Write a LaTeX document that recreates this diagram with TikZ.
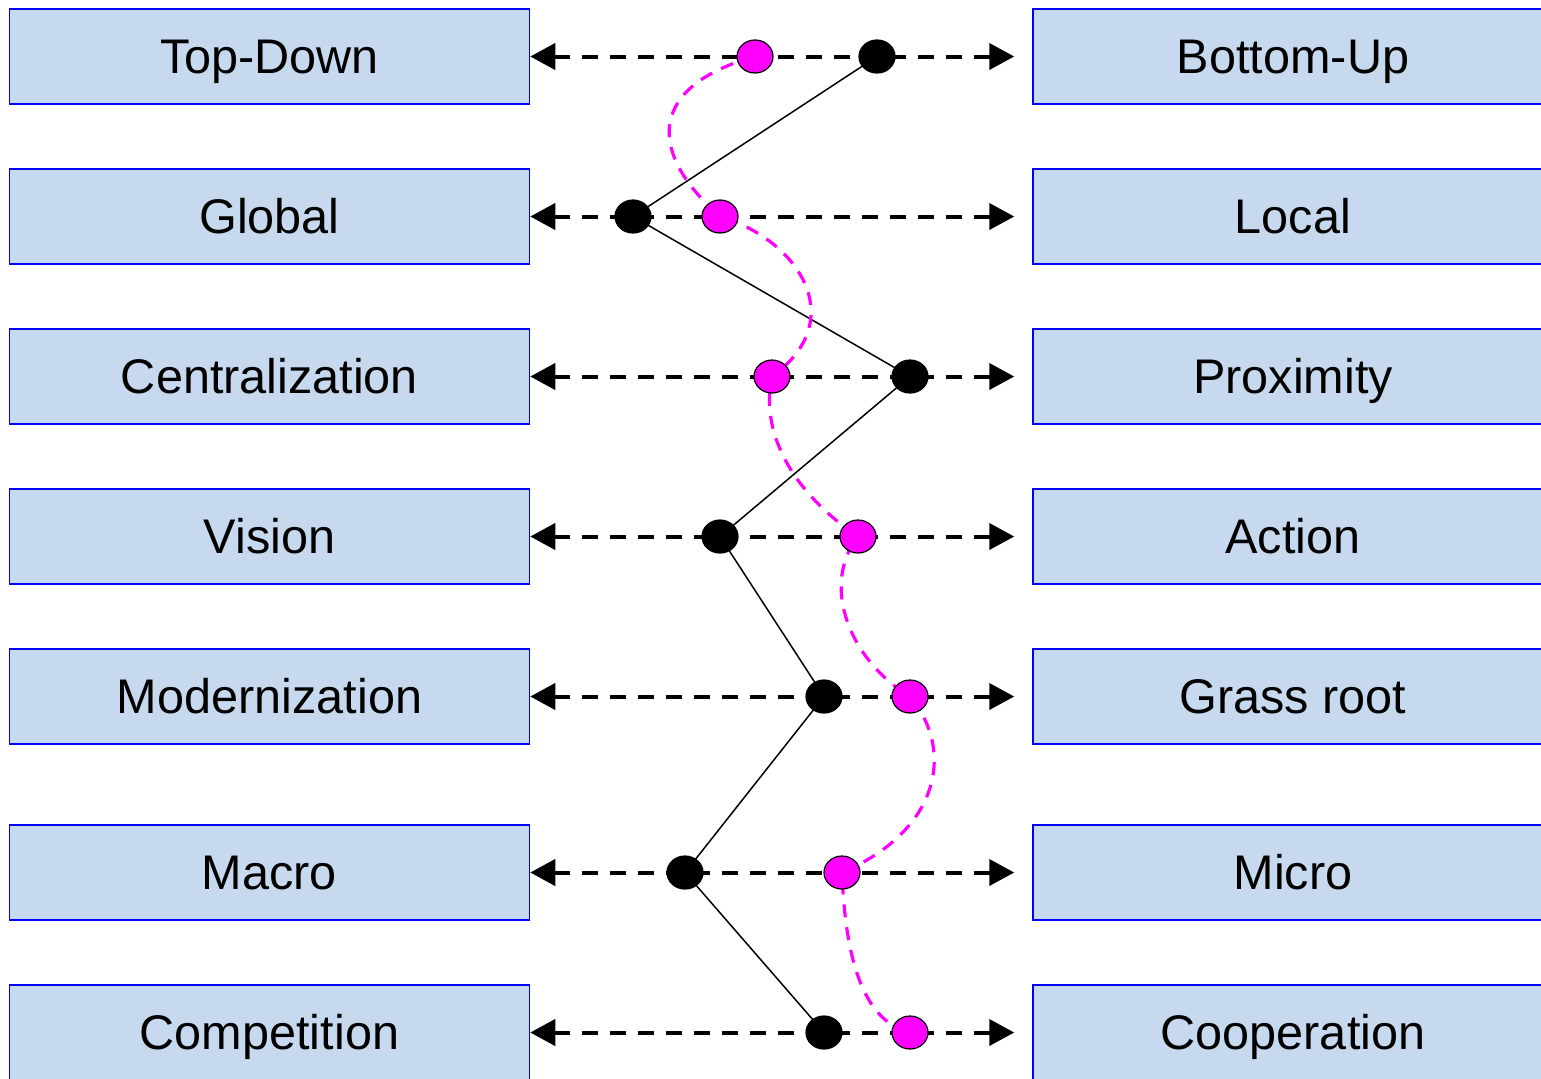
\documentclass[tikz,border=0pt]{standalone}
\usepackage{fontspec}
\setmainfont{Liberation Sans}
\usetikzlibrary{arrows.meta, shapes.geometric, backgrounds}
\definecolor{boxblue}{RGB}{198,217,238}
\definecolor{pinkdot}{RGB}{255,0,255}

\begin{document}
\begin{tikzpicture}[x=0.5pt, y=-0.5pt,
  term/.style={draw=blue, line width=0.75pt, fill=boxblue, minimum width=260pt, minimum height=47.5pt, inner sep=0pt, text height=17.4pt, text depth=0pt, font=\fontsize{24.3}{28}\selectfont},
  bdot/.style={draw, fill=black, ellipse, minimum width=18pt, minimum height=16.5pt, inner sep=0pt, line width=0.6pt},
  mdot/.style={bdot, fill=pinkdot},
  scalearrow/.style={line width=2pt, dash pattern=on 8pt off 6pt, {Triangle[length=12.5pt,width=13pt]}-{Triangle[length=12.5pt,width=13pt]}, shorten >=9pt},
  profile/.style={line width=0.75pt},
  wave/.style={pinkdot, line width=1.6pt, dash pattern=on 6.5pt off 5pt}]
\useasboundingbox (0,0) rectangle (1541,1078);
% left terms
\node[term] (l1) at (269.5,56.5) {Top-Down};
\node[term] (l2) at (269.5,216.5) {Global};
\node[term] (l3) at (269.5,376.5) {Centralization};
\node[term] (l4) at (269.5,536.5) {Vision};
\node[term] (l5) at (269.5,696.5) {Modernization};
\node[term] (l6) at (269.5,872.5) {Macro};
\node[term] (l7) at (269.5,1032.5) {Competition};
% right terms
\node[term] (r1) at (1293,56.5) {Bottom-Up};
\node[term] (r2) at (1293,216.5) {Local};
\node[term] (r3) at (1293,376.5) {Proximity};
\node[term] (r4) at (1293,536.5) {Action};
\node[term] (r5) at (1293,696.5) {Grass root};
\node[term] (r6) at (1293,872.5) {Micro};
\node[term] (r7) at (1293,1032.5) {Cooperation};
% black profile
\node[bdot] (b1) at (877,56.5) {};
\node[bdot] (b2) at (633,216.5) {};
\node[bdot] (b3) at (910,376.5) {};
\node[bdot] (b4) at (720,536.5) {};
\node[bdot] (b5) at (824,696.5) {};
\node[bdot] (b6) at (685,872.5) {};
\node[bdot] (b7) at (824,1032.5) {};
% magenta profile
\node[mdot] (m1) at (755,56.5) {};
\node[mdot] (m2) at (720,216.5) {};
\node[mdot] (m3) at (772,376.5) {};
\node[mdot] (m4) at (858,536.5) {};
\node[mdot] (m5) at (910,696.5) {};
\node[mdot] (m6) at (842,872.5) {};
\node[mdot] (m7) at (910,1032.5) {};
\begin{pgfonlayer}{background}
\draw[scalearrow] (l1.east) -- (r1.west);
\draw[scalearrow] (l2.east) -- (r2.west);
\draw[scalearrow] (l3.east) -- (r3.west);
\draw[scalearrow] (l4.east) -- (r4.west);
\draw[scalearrow] (l5.east) -- (r5.west);
\draw[scalearrow] (l6.east) -- (r6.west);
\draw[scalearrow] (l7.east) -- (r7.west);
\draw[profile] (b1.center) -- (b2.center) -- (b3.center) -- (b4.center) -- (b5.center) -- (b6.center) -- (b7.center);
\draw[wave] (m1.center) .. controls +(-105,29) and +(-75,-66) .. (m2.center)
  .. controls +(80,24) and +(78,-56) .. (m3.center)
  .. controls +(-12,54) and +(-68,-46) .. (m4.center)
  .. controls +(-38,49) and +(-60,-36) .. (m5.center)
  .. controls +(45,54) and +(98,-42) .. (m6.center)
  .. controls +(3,78) and +(-50,-12) .. (m7.center);
\end{pgfonlayer}
\end{tikzpicture}
\end{document}
